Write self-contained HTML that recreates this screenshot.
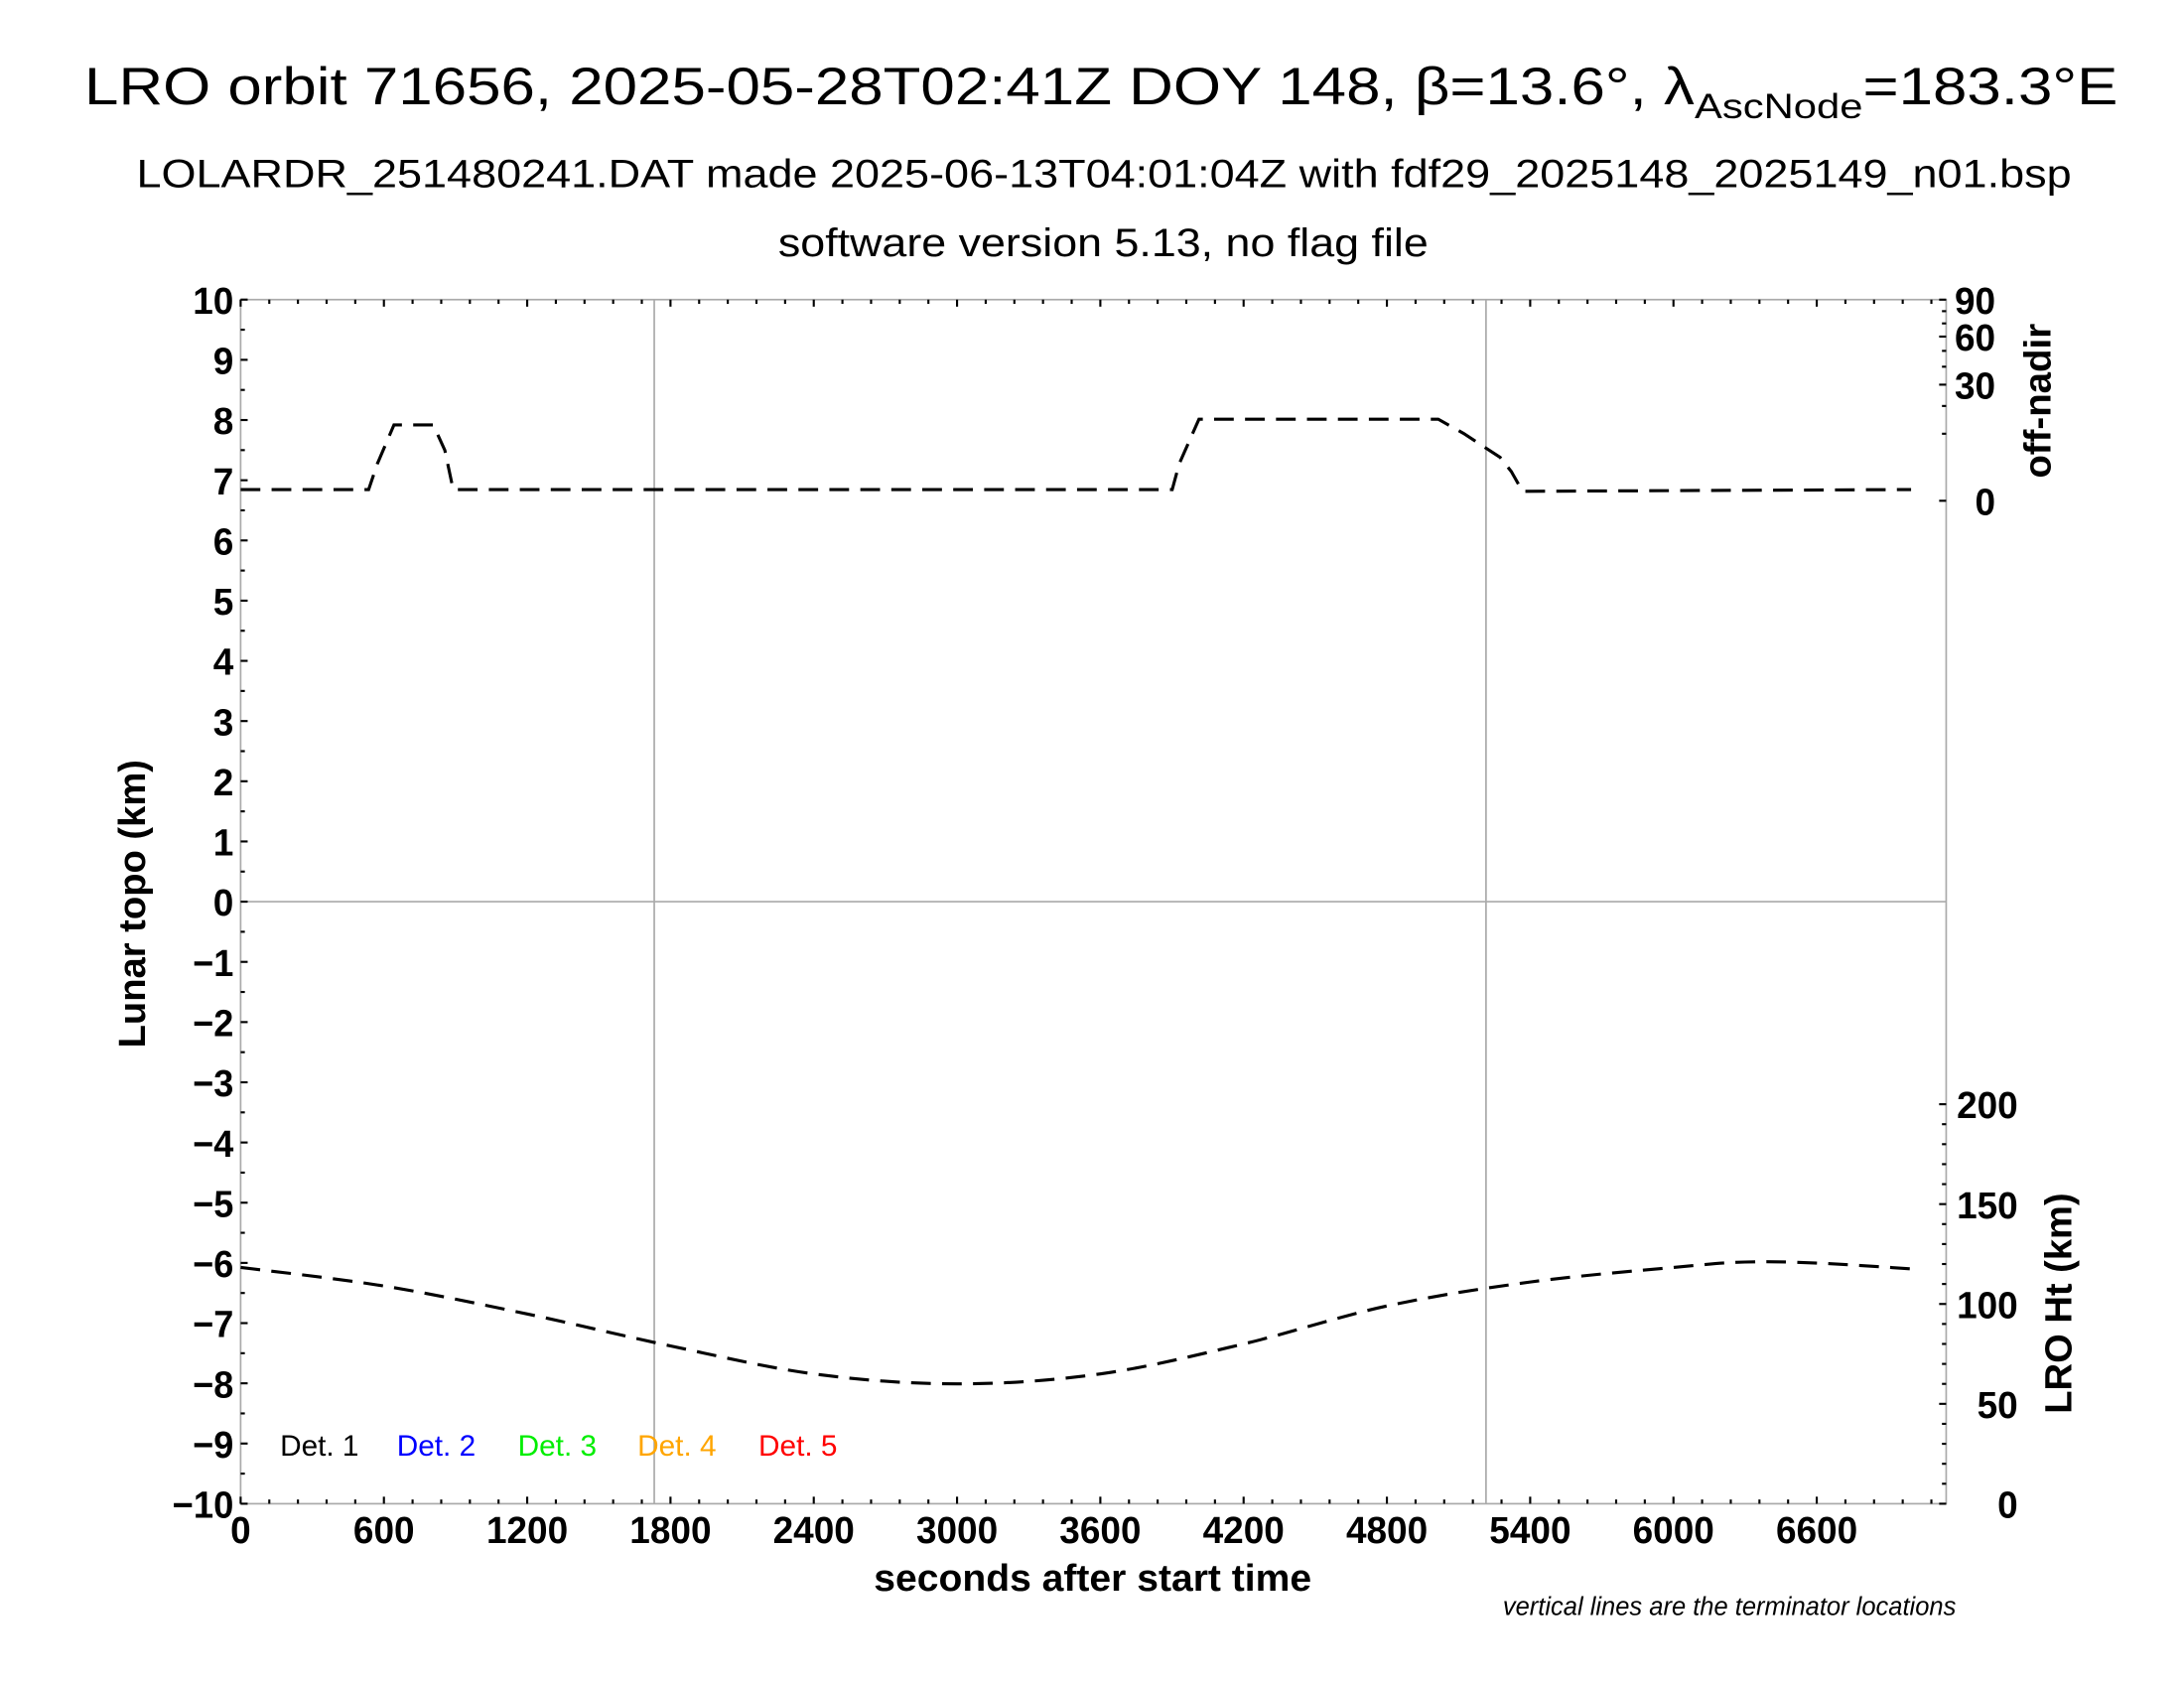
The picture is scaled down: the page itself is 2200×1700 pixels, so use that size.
<!DOCTYPE html>
<html><head><meta charset="utf-8"><style>
html,body{margin:0;padding:0;background:#fff;}
svg{display:block;}
text{font-family:"Liberation Sans",sans-serif;}
</style></head><body>
<svg id="chart" width="2200" height="1700" viewBox="0 0 1552 1200" preserveAspectRatio="none" xmlns="http://www.w3.org/2000/svg">
<rect width="1552" height="1200" fill="#fff"/>
<text x="60" y="74" font-size="37" textLength="1445" lengthAdjust="spacingAndGlyphs">LRO orbit 71656, 2025-05-28T02:41Z DOY 148, β=13.6°, λ<tspan font-size="25" dy="10">AscNode</tspan><tspan dy="-10">=183.3°E</tspan></text>
<text x="97" y="133" font-size="28" textLength="1375" lengthAdjust="spacingAndGlyphs">LOLARDR_251480241.DAT made 2025-06-13T04:01:04Z with fdf29_2025148_2025149_n01.bsp</text>
<text x="553" y="182" font-size="28" textLength="462" lengthAdjust="spacingAndGlyphs">software version 5.13, no flag file</text>
<g id="plot"></g>
<text x="621" y="1131" font-size="27" font-weight="bold" textLength="311" lengthAdjust="spacingAndGlyphs">seconds after start time</text>
<text transform="translate(103,745) rotate(-90)" font-size="27" font-weight="bold" textLength="205" lengthAdjust="spacingAndGlyphs">Lunar topo (km)</text>
<text transform="translate(1457,340) rotate(-90)" font-size="27" font-weight="bold" textLength="110" lengthAdjust="spacingAndGlyphs">off-nadir</text>
<text transform="translate(1472,1005) rotate(-90)" font-size="27" font-weight="bold" textLength="157" lengthAdjust="spacingAndGlyphs">LRO Ht (km)</text>
<text x="1390" y="1148" font-size="18" font-style="italic" text-anchor="end">vertical lines are the terminator locations</text>
<g>
<text x="199" y="1035" font-size="21" fill="#000">Det. 1</text>
<text x="282" y="1035" font-size="21" fill="#0000ff">Det. 2</text>
<text x="368" y="1035" font-size="21" fill="#00ee00">Det. 3</text>
<text x="453" y="1035" font-size="21" fill="#ffa500">Det. 4</text>
<text x="539" y="1035" font-size="21" fill="#ff0000">Det. 5</text>
</g>
</svg>
<script>
const xTicks = [0,600,1200,1800,2400,3000,3600,4200,4800,5400,6000,6600];
const yTicks = [10,9,8,7,6,5,4,3,2,1,0,-1,-2,-3,-4,-5,-6,-7,-8,-9,-10];
const yTickLabels = ["10","9","8","7","6","5","4","3","2","1","0","\u22121","\u22122","\u22123","\u22124","\u22125","\u22126","\u22127","\u22128","\u22129","\u221210"];
const nadirTicks = [0,30,60,90];
const htTicks = [0,50,100,150,200];
const terminators = [1732,5215];
const nadirTime = [0,536,572,642,807,855,890,3901,3930,4013,5015,5121,5274,5321,5368,6995];
const nadirDeg = [0.28,0.28,3.0,12.8,12.8,5.7,0.28,0.28,3.0,14.8,14.8,10.1,4.2,1.9,0.2,0.28];
const htTime = [0,600,1200,1800,2400,3000,3600,4200,4800,5400,6000,6300,6600,6995];
const htKm = [118.3,109,95,79,65,60,65,80,99,111,118.3,121,120.5,117.6];

const L=171,R=1383,T=213,B=1069,XMAX=7142;
const sx=s=>L+(R-L)*s/XMAX;
const sy=v=>T+(10-v)*(B-T)/20;
const sn=d=>356-15.07*Math.sqrt(d);
const sh=h=>B-1.42*h;
const NS="http://www.w3.org/2000/svg";
const g=document.getElementById('plot');
function mk(tag,attrs){const e=document.createElementNS(NS,tag);for(const k in attrs)e.setAttribute(k,attrs[k]);g.appendChild(e);return e;}
const CW=14.5;

let e;
e=mk('rect',{x:L,y:T,width:R-L,height:B-T,fill:'none',stroke:'#aaa','stroke-width':1.2});


e=mk('line',{x1:L,x2:R,y1:sy(0),y2:sy(0),stroke:'#aaa','stroke-width':1.2});


terminators.forEach(t=>{
  e=mk('line',{x1:sx(t),x2:sx(t),y1:T,y2:B,stroke:'#aaa','stroke-width':1.2});
  
  
});
for(let s=0;s<=XMAX;s+=120){
  const maj=s%600===0;
  mk('line',{x1:sx(s),x2:sx(s),y1:B,y2:B-(maj?5:3),stroke:'#000','stroke-width':1.5});
  mk('line',{x1:sx(s),x2:sx(s),y1:T,y2:T+(maj?5:3),stroke:'#000','stroke-width':1.5});
}
xTicks.forEach(s=>{
  const txt=String(s);
  e=mk('text',{x:sx(s)-txt.length*CW/2,y:B+28,'font-size':27,'font-weight':'bold',textLength:txt.length*CW,lengthAdjust:'spacingAndGlyphs'});
  e.textContent=txt;
  
  
});
for(let v=-10;v<=10;v+=0.5){
  mk('line',{x1:L,x2:L+(v%1===0?5:3),y1:sy(v),y2:sy(v),stroke:'#000','stroke-width':1.5});
}
yTicks.forEach((v,i)=>{
  const txt=yTickLabels[i];
  e=mk('text',{x:L-5-txt.length*CW,y:sy(v)+10,'font-size':27,'font-weight':'bold',textLength:txt.length*CW,lengthAdjust:'spacingAndGlyphs'});
  e.textContent=txt;
  
  
});
for(let d=0;d<=90;d+=10){mk('line',{x1:R,x2:R-(d%30===0?5:3),y1:sn(d),y2:sn(d),stroke:'#000','stroke-width':1.5});}
nadirTicks.forEach(d=>{
  const txt=String(d);
  e=mk('text',{x:1418-txt.length*CW,y:sn(d)+10,'font-size':27,'font-weight':'bold',textLength:txt.length*CW,lengthAdjust:'spacingAndGlyphs'});
  e.textContent=txt;
  
  
});
for(let h=0;h<=200;h+=10){mk('line',{x1:R,x2:R-(h%50===0?5:3),y1:sh(h),y2:sh(h),stroke:'#000','stroke-width':1.5});}
htTicks.forEach(h=>{
  const txt=String(h);
  e=mk('text',{x:1434-txt.length*CW,y:sh(h)+10,'font-size':27,'font-weight':'bold',textLength:txt.length*CW,lengthAdjust:'spacingAndGlyphs'});
  e.textContent=txt;
  
  
});
function smoothPath(xs,ys){
  let d='M'+xs[0]+','+ys[0];
  for(let i=0;i<xs.length-1;i++){
    const x0=xs[Math.max(i-1,0)],y0=ys[Math.max(i-1,0)],x1=xs[i],y1=ys[i],x2=xs[i+1],y2=ys[i+1],x3=xs[Math.min(i+2,xs.length-1)],y3=ys[Math.min(i+2,xs.length-1)];
    d+=' C'+(x1+(x2-x0)/6)+','+(y1+(y2-y0)/6)+' '+(x2-(x3-x1)/6)+','+(y2-(y3-y1)/6)+' '+x2+','+y2;
  }
  return d;
}
e=mk('polyline',{points:nadirTime.map((t,i)=>sx(t)+','+sn(nadirDeg[i])).join(' '),fill:'none',stroke:'#000','stroke-width':2.2,'stroke-dasharray':'14,8'});


e=mk('path',{d:smoothPath(htTime.map(sx),htKm.map(sh)),fill:'none',stroke:'#000','stroke-width':2.2,'stroke-dasharray':'14,8'});


</script>
</body></html>
